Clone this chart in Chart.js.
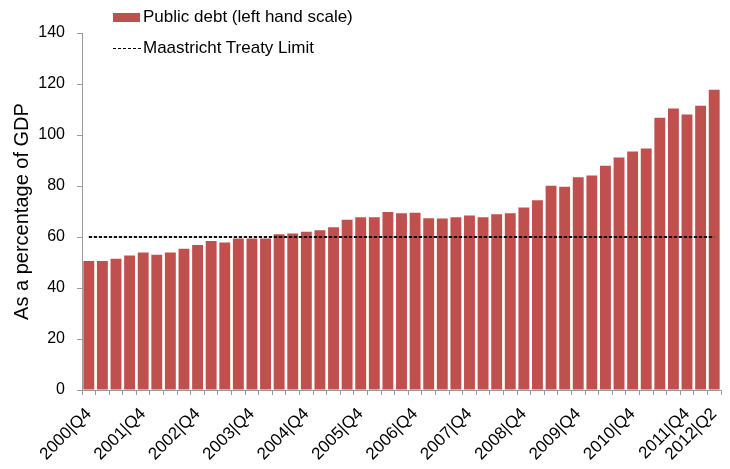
<!DOCTYPE html>
<html>
<head>
<meta charset="utf-8">
<script src="https://cdn.jsdelivr.net/npm/chart.js@4"></script>
<style>
  body { margin: 0; background: #fff; }
  #wrap { position: relative; width: 730px; height: 469px; }
  #legend { position: absolute; left: 113px; top: 4px; font-family: "Liberation Sans", Arial, sans-serif; font-size: 17px; color: #000; }
  #legend .item { position: relative; height: 31px; line-height: 26px; padding-left: 30px; white-space: nowrap; }
  #legend .box { position: absolute; left: 0; top: 9px; width: 27px; height: 9px; background: #C0504D; }
  #legend .dash { position: absolute; left: 0; top: 13px; width: 28px; border-top: 1.5px dashed #000; }
</style>
</head>
<body>
<div id="wrap">
  <canvas id="debtChart"></canvas>
  <div id="legend">
    <div class="item"><span class="box"></span>Public debt (left hand scale)</div>
    <div class="item"><span class="dash"></span>Maastricht Treaty Limit</div>
  </div>
</div>
<script>
// Quarterly public debt, % of GDP
const quarters = [
  '2000|Q4',
  '2001|Q1', '2001|Q2', '2001|Q3', '2001|Q4',
  '2002|Q1', '2002|Q2', '2002|Q3', '2002|Q4',
  '2003|Q1', '2003|Q2', '2003|Q3', '2003|Q4',
  '2004|Q1', '2004|Q2', '2004|Q3', '2004|Q4',
  '2005|Q1', '2005|Q2', '2005|Q3', '2005|Q4',
  '2006|Q1', '2006|Q2', '2006|Q3', '2006|Q4',
  '2007|Q1', '2007|Q2', '2007|Q3', '2007|Q4',
  '2008|Q1', '2008|Q2', '2008|Q3', '2008|Q4',
  '2009|Q1', '2009|Q2', '2009|Q3', '2009|Q4',
  '2010|Q1', '2010|Q2', '2010|Q3', '2010|Q4',
  '2011|Q1', '2011|Q2', '2011|Q3', '2011|Q4',
  '2012|Q1', '2012|Q2'
];

const publicDebt = [
  50.6, 50.6, 51.5, 52.7, 53.9, 53.0, 53.9, 55.4, 56.9, 58.4,
  57.8, 59.4, 59.4, 59.4, 61.1, 61.4, 62.1, 62.6, 63.8, 66.8,
  67.7, 67.7, 69.8, 69.3, 69.5, 67.4, 67.3, 67.7, 68.4, 67.7,
  68.9, 69.3, 71.6, 74.4, 80.1, 79.7, 83.4, 84.1, 87.9, 91.2,
  93.5, 94.7, 106.8, 110.4, 108.0, 111.5, 117.7
];

const maastrichtLimit = 60;

// y axis ticks
const yMin = 0;
const yMax = 140;
const yStep = 20;

const axisColor = '#9a9a9a';
Chart.defaults.font.family = '"Liberation Sans", Arial, sans-serif';
Chart.defaults.color = '#000';

const ctx = document.getElementById('debtChart').getContext('2d');
const chart = new Chart(ctx, {
  data: {
    labels: quarters,
    datasets: [
      {
        type: 'line',
        label: 'Maastricht Treaty Limit',
        data: [
          { x: quarters[0], y: maastrichtLimit },
          { x: quarters[quarters.length - 1], y: maastrichtLimit }
        ],
        borderColor: '#111',
        borderWidth: 1.8,
        borderDash: [3.3, 1.7],
        pointRadius: 0,
        fill: false,
        order: 0
      },
      {
        type: 'bar',
        label: 'Public debt (left hand scale)',
        data: publicDebt,
        backgroundColor: '#C0504D',
        borderWidth: 0,
        categoryPercentage: 1.0,
        barPercentage: 0.8,
        order: 1
      }
    ]
  },
  options: {
    responsive: true,
    maintainAspectRatio: false,
    animation: false,
    layout: { padding: { top: 33, right: 9, left: 0, bottom: 0 } },
    plugins: {
      legend: { display: false },
      tooltip: { enabled: false }
    },
    scales: {
      x: {
        offset: true,
        grid: {
          offset: true,
          drawOnChartArea: false,
          drawTicks: true,
          tickLength: 5,
          color: axisColor
        },
        border: { color: axisColor, width: 1 },
        ticks: {
          autoSkip: false,
          minRotation: 45,
          maxRotation: 45,
          padding: 9,
          font: { size: 17 },
          callback: function (value, index) {
            if (index % 4 === 0 || index === quarters.length - 1) {
              return quarters[index];
            }
            return '';
          }
        },
        afterFit: function (scale) {
          scale.height = 79;
          // rotated labels end at their tick, no extra room needed on the sides
          scale.paddingLeft = 0;
          scale.paddingRight = 0;
        }
      },
      y: {
        min: yMin,
        max: yMax,
        grid: {
          drawOnChartArea: false,
          drawTicks: true,
          tickLength: 5,
          color: axisColor
        },
        border: { color: axisColor, width: 1 },
        ticks: {
          stepSize: yStep,
          padding: 12,
          font: { size: 16 }
        },
        title: {
          display: true,
          text: 'As a percentage of GDP',
          font: { size: 20 },
          padding: { top: 10, bottom: 0 }
        },
        afterFit: function (scale) { scale.width = 82; }
      }
    }
  }
});
</script>
</body>
</html>
